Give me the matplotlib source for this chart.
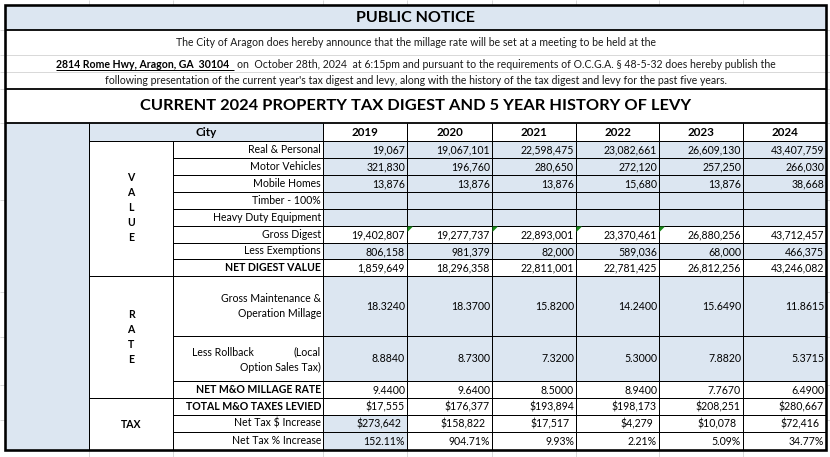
import matplotlib
matplotlib.use('Agg')
import matplotlib.pyplot as plt
from matplotlib.patches import Rectangle, Polygon

plt.rcParams['font.family'] = ['Lato', 'DejaVu Sans']

# data read from the notice
years = ['2019', '2020', '2021', '2022', '2023', '2024']
real_personal = [19067, 19067101, 22598475, 23082661, 26609130, 43407759]
motor_vehicles = [321830, 196760, 280650, 272120, 257250, 266030]
mobile_homes = [13876, 13876, 13876, 15680, 13876, 38668]
timber = [None] * 6
heavy_duty = [None] * 6
gross_digest = [19402807, 19277737, 22893001, 23370461, 26880256, 43712457]
less_exemptions = [806158, 981379, 82000, 589036, 68000, 466375]
net_digest = [1859649, 18296358, 22811001, 22781425, 26812256, 43246082]
gross_mo = [18.3240, 18.3700, 15.8200, 14.2400, 15.6490, 11.8615]
rollback = [8.8840, 8.7300, 7.3200, 5.3000, 7.8820, 5.3715]
net_mo = [9.4400, 9.6400, 8.5000, 8.9400, 7.7670, 6.4900]
total_taxes = [17555, 176377, 193894, 198173, 208251, 280667]
net_tax_inc = [273642, 158822, 17517, 4279, 10078, 72416]
net_tax_pct = [152.11, 904.71, 9.93, 2.21, 5.09, 34.77]

title = 'PUBLIC NOTICE'
line1 = 'The City of Aragon does hereby announce that the millage rate will be set at a meeting to be held at the'
addr = '2814 Rome Hwy, Aragon, GA  30104   '
line2 = 'on  October 28th, 2024  at 6:15pm and pursuant to the requirements of O.C.G.A. \u00a7 48-5-32 does hereby publish the'
line3 = "following presentation of the current year's tax digest and levy, along with the history of the tax digest and levy for the past five years."
heading = 'CURRENT 2024 PROPERTY TAX DIGEST AND 5 YEAR HISTORY OF LEVY'

BLUE = '#dce6f1'
GRID = '#d9d9d9'
FS = 7.6

def comma(v):
    return '' if v is None else f'{v:,}'

def rate(v):
    return f'{v:.4f}'

def money(v):
    return f'${v:,}'

def pct(v):
    return f'{v:.2f}%'

# label, values, formatter, shading ('all', 'none', 'first'), bold label, row top, row bottom
rows = [
    ('Real & Personal', real_personal, comma, 'all', False, 141, 158),
    ('Motor Vehicles', motor_vehicles, comma, 'all', False, 158, 175),
    ('Mobile Homes', mobile_homes, comma, 'all', False, 175, 192),
    ('Timber - 100%', timber, comma, 'all', False, 192, 209),
    ('Heavy Duty Equipment', heavy_duty, comma, 'all', False, 209, 226),
    ('Gross Digest', gross_digest, comma, 'none', False, 226, 243),
    ('Less Exemptions', less_exemptions, comma, 'all', False, 243, 259),
    ('NET DIGEST VALUE', net_digest, comma, 'none', True, 259, 276),
    ('Gross Maintenance &\nOperation Millage', gross_mo, rate, 'all', False, 276, 336),
    (None, rollback, rate, 'all', False, 336, 381),
    ('NET M&O MILLAGE RATE', net_mo, rate, 'none', True, 381, 398),
    ('TOTAL M&O TAXES LEVIED', total_taxes, money, 'none', True, 398, 415),
    ('Net Tax $ Increase', net_tax_inc, money, 'first', False, 415, 432),
    ('Net Tax % Increase', net_tax_pct, pct, 'first', False, 432, 450),
]

colx = [323, 407, 492, 576, 659, 743, 826]
L, R, T, B = 5, 826, 5, 450

fig = plt.figure(figsize=(8.3, 4.57), dpi=100)
ax = fig.add_axes([0, 0, 1, 1])
ax.set_xlim(0, 830)
ax.set_ylim(457, 0)
ax.axis('off')

def hline(y, x0, x1, w=1.0, c='black', z=3):
    ax.plot([x0, x1], [y, y], color=c, lw=w * 0.72, solid_capstyle='butt', zorder=z)

def vline(x, y0, y1, w=1.0, c='black', z=3):
    ax.plot([x, x], [y0, y1], color=c, lw=w * 0.72, solid_capstyle='butt', zorder=z)

def box(x0, y0, x1, y1, fc):
    ax.add_patch(Rectangle((x0, y0), x1 - x0, y1 - y0, facecolor=fc, edgecolor='none', zorder=1))

# spreadsheet gridlines around the table
for x in [89, 173, 323] + colx[1:-1]:
    vline(x, 0, T, c=GRID, z=0)
    vline(x, B, 457, c=GRID, z=0)
for y in [30, 55, 72, 89, 123, 200, 292, 337, 385, 420]:
    hline(y, 0, L, c=GRID, z=0)
    hline(y, R, 830, c=GRID, z=0)

# header block
box(L, T, R, 30, BLUE)
ax.text((L + R) / 2, 18, title, ha='center', va='center', fontsize=11.5, fontweight='bold', zorder=4)
ax.text((L + R) / 2, 43, line1, ha='center', va='center', fontsize=FS, color='#1a1a1a', zorder=4)
hline(55, L, R, c=GRID, z=2)
hline(72, L, R, c=GRID, z=2)
ax.text((L + R) / 2, 106, heading, ha='center', va='center', fontsize=11.75, fontweight='bold', zorder=4)
ax.text((L + R) / 2, 81, line3, ha='center', va='center', fontsize=FS, color='#1a1a1a', zorder=4)

# mixed bold/underlined address line, centred as a whole
r = fig.canvas.get_renderer()
ta = ax.text(0, 64, addr, ha='left', va='center', fontsize=FS, fontweight='bold', zorder=4)
tb = ax.text(0, 64, line2, ha='left', va='center', fontsize=FS, color='#1a1a1a', zorder=4)
wa = ta.get_window_extent(r).width
wb = tb.get_window_extent(r).width
x0 = (L + R) / 2 - (wa + wb) / 2
ta.set_x(x0)
tb.set_x(x0 + wa)
hline(69.5, x0, x0 + wa - 3, w=1.0, z=4)

# table shading
box(L, 123, 89, B, BLUE)
box(89, 123, 323, 141, BLUE)
for label, vals, fmt, shade, bold, y0, y1 in rows:
    for i in range(6):
        if shade == 'all' or (shade == 'first' and i == 0):
            box(colx[i], y0, colx[i + 1], y1, BLUE)

# table text
ax.text(206, 132, 'City', ha='center', va='center', fontsize=8.4, fontweight='bold', zorder=4)
for i, yr in enumerate(years):
    ax.text((colx[i] + colx[i + 1]) / 2, 132, yr, ha='center', va='center', fontsize=8.4,
            fontweight='bold', zorder=4)

for label, vals, fmt, shade, bold, y0, y1 in rows:
    yc = (y0 + y1) / 2
    if label is not None:
        ax.text(321, yc, label, ha='right', va='center', fontsize=FS,
                fontweight='bold' if bold else 'normal', linespacing=1.4, zorder=4)
    pad = 6 if fmt is money and label.startswith('Net Tax') else 2
    for i, v in enumerate(vals):
        ax.text(colx[i + 1] - pad, yc + 0.5, fmt(v) if v is not None else '', ha='right', va='center',
                fontsize=FS, zorder=4)

ax.text(192, 352, 'Less Rollback', ha='left', va='center', fontsize=FS, zorder=4)
ax.text(321, 352, '(Local', ha='right', va='center', fontsize=FS, zorder=4)
ax.text(321, 367, 'Option Sales Tax)', ha='right', va='center', fontsize=FS, zorder=4)

ax.text(131, 207.5, 'V\nA\nL\nU\nE', ha='center', va='center', fontsize=FS, fontweight='bold',
        linespacing=1.45, zorder=4)
ax.text(131, 337, 'R\nA\nT\nE', ha='center', va='center', fontsize=FS, fontweight='bold',
        linespacing=1.45, zorder=4)
ax.text(131, 424, 'TAX', ha='center', va='center', fontsize=FS, fontweight='bold', zorder=4)

# cell borders
for label, vals, fmt, shade, bold, y0, y1 in rows:
    hline(y1, 173, R)
hline(141, 89, R)
for y in [276, 398]:
    hline(y, 89, 173)
vline(89, 123, B)
vline(173, 141, B)
for x in colx[:-1]:
    vline(x, 123, B)

# green error markers on gross digest cells
for i in range(1, 5):
    cx = colx[i]
    ax.add_patch(Polygon([(cx + 0.5, 226.5), (cx + 6, 226.5), (cx + 0.5, 232)], closed=True,
                         facecolor='#1a8a1a', edgecolor='none', zorder=5))

# heavy outlines
hline(30, L, R, w=1.8)
hline(89, L, R, w=1.8)
hline(123, L, R, w=1.8)
ax.add_patch(Rectangle((L, T), R - L, B - T, facecolor='none', edgecolor='black', lw=2.6 * 0.72, zorder=6))

fig.savefig('out.png', dpi=100)
